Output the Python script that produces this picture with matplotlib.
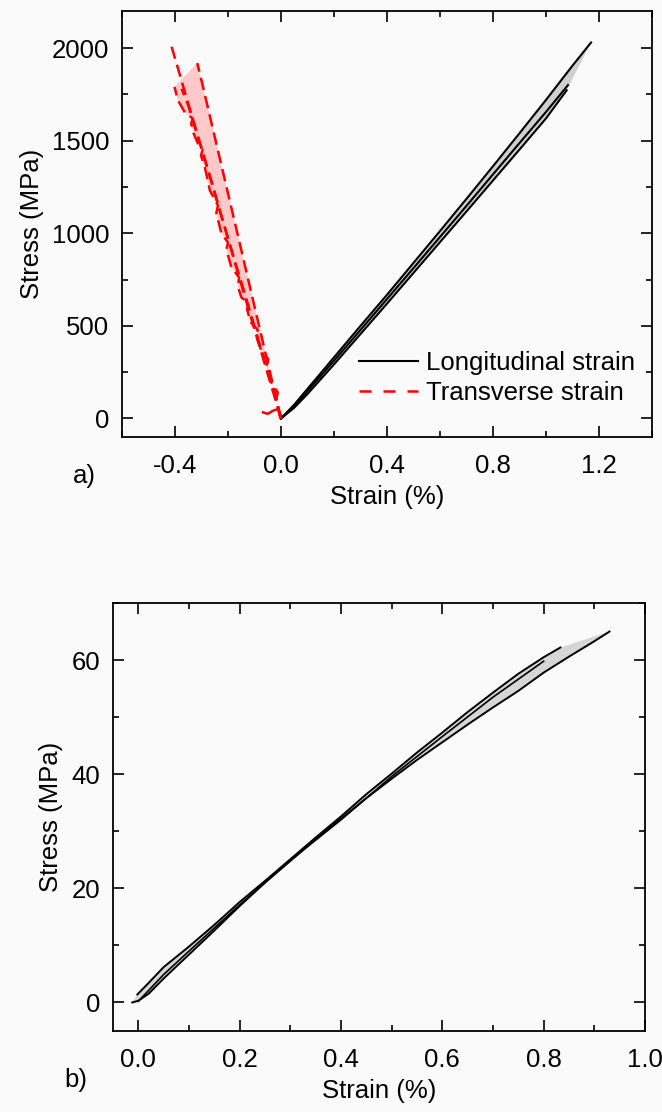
import numpy as np
import matplotlib
matplotlib.use('Agg')
import matplotlib.pyplot as plt
from matplotlib.ticker import MultipleLocator

plt.rcParams['font.family'] = ['Liberation Sans', 'DejaVu Sans']
plt.rcParams['font.size'] = 18.5

# ---- panel a): longitudinal strain (black) ----
long_x1 = [0, 0.05, 0.1, 0.2, 0.3, 0.4, 0.5, 0.6, 0.7, 0.8, 0.9, 1.0, 1.1, 1.17]
long_y1 = [0, 75, 160, 330, 500, 668, 840, 1012, 1186, 1362, 1540, 1720, 1905, 2030]
long_x2 = [0, 0.05, 0.1, 0.2, 0.3, 0.4, 0.5, 0.6, 0.7, 0.8, 0.9, 1.0, 1.083]
long_y2 = [0, 68, 148, 312, 478, 645, 812, 980, 1148, 1318, 1487, 1655, 1800]
long_x3 = [0, 0.05, 0.1, 0.2, 0.3, 0.4, 0.5, 0.6, 0.7, 0.8, 0.9, 1.0, 1.078]
long_y3 = [0, 58, 132, 292, 456, 620, 786, 952, 1118, 1285, 1452, 1620, 1772]

# ---- panel a): transverse strain (red) ----
trans_x1 = [0, -0.005, -0.018, -0.012, -0.035, -0.055, -0.048, -0.075, -0.093, -0.088,
            -0.115, -0.128, -0.122, -0.150, -0.163, -0.158, -0.188, -0.206, -0.200,
            -0.225, -0.244, -0.238, -0.268, -0.288, -0.302, -0.296, -0.314, -0.330,
            -0.339, -0.333, -0.362, -0.389, -0.402]
trans_y1 = [0, 15, 105, 140, 190, 284, 320, 370, 445, 480, 520, 589, 620, 655, 714,
            760, 820, 912, 950, 1000, 1109, 1150, 1230, 1360, 1420, 1450, 1486, 1540,
            1593, 1620, 1650, 1718, 1790]
trans_x2 = [0, -0.05, -0.1, -0.15, -0.2, -0.25, -0.3, -0.316]
trans_y2 = [0, 300, 605, 910, 1215, 1520, 1825, 1919]
trans_x3 = [0, -0.05, -0.1, -0.15, -0.2, -0.25, -0.3, -0.35, -0.4, -0.418]
trans_y3 = [0, 240, 480, 725, 970, 1215, 1460, 1700, 1945, 2032]
trans_x4 = [0, -0.02, -0.05, -0.08, -0.11, -0.14, -0.17, -0.2, -0.23, -0.26, -0.29,
            -0.32, -0.35, -0.375]
trans_y4 = [0, 110, 260, 400, 545, 690, 830, 975, 1120, 1270, 1410, 1550, 1690, 1780]
trans_x5 = [0, -0.012, -0.03, -0.05, -0.068]
trans_y5 = [15, 51, 42, 25, 33]

# ---- panel b) ----
b_x1 = [-0.002, 0.02, 0.05, 0.1, 0.15, 0.2, 0.25, 0.3, 0.35, 0.4, 0.45, 0.5, 0.55,
        0.6, 0.65, 0.7, 0.75, 0.8, 0.833]
b_y1 = [1.4, 3.4, 6.2, 9.8, 13.6, 17.6, 21.3, 25.1, 28.9, 32.6, 36.5, 40.1, 43.8,
        47.3, 50.9, 54.3, 57.6, 60.5, 62.2]
b_x2 = [-0.012, 0.0, 0.02, 0.05, 0.1, 0.15, 0.2, 0.25, 0.3, 0.35, 0.4, 0.45, 0.5,
        0.55, 0.6, 0.65, 0.7, 0.75, 0.8, 0.85, 0.9, 0.93]
b_y2 = [0, 0.3, 1.5, 4.2, 8.4, 12.6, 16.9, 21.0, 24.8, 28.6, 32.2, 35.8, 39.2,
        42.5, 45.6, 48.7, 51.7, 54.6, 57.8, 60.6, 63.3, 65.0]
b_x3 = [0.0, 0.05, 0.1, 0.2, 0.3, 0.4, 0.5, 0.6, 0.7, 0.8]
b_y3 = [0.2, 4.9, 9.0, 17.1, 24.9, 32.0, 39.6, 46.6, 53.5, 59.8]

bg = '#fafafa'
fig = plt.figure(figsize=(6.62, 11.12), dpi=100, facecolor=bg)
ax1 = fig.add_axes([122/662, 1-437/1112, 530/662, 426/1112], facecolor=bg)
ax2 = fig.add_axes([113/662, 1-1031/1112, 532/662, 428/1112], facecolor=bg)

# panel a
ax1.fill(np.concatenate([long_x1, long_x3[::-1]]), np.concatenate([long_y1, long_y3[::-1]]),
         color='#cfcfcf', lw=0)
ax1.fill(np.concatenate([trans_x1, trans_x2[::-1]]), np.concatenate([trans_y1, trans_y2[::-1]]),
         color='#ffc9c9', lw=0)
for x, y in [(long_x1, long_y1), (long_x2, long_y2), (long_x3, long_y3)]:
    ax1.plot(x, y, color='black', lw=1.5)
ax1.plot([], [], color='black', lw=1.5, label='Longitudinal strain')
for x, y in [(trans_x1, trans_y1), (trans_x2, trans_y2), (trans_x3, trans_y3), (trans_x4, trans_y4)]:
    ax1.plot(x, y, color='red', lw=1.8, ls=(0, (5, 2.5)))
ax1.plot(trans_x5, trans_y5, color='red', lw=1.8)
ax1.plot([], [], color='red', lw=1.8, ls=(0, (4.8, 4.8)), label='Transverse strain')

ax1.set_xlim(-0.6, 1.4)
ax1.set_ylim(-100, 2200)
ax1.xaxis.set_major_locator(MultipleLocator(0.4))
ax1.xaxis.set_minor_locator(MultipleLocator(0.2))
ax1.yaxis.set_major_locator(MultipleLocator(500))
ax1.yaxis.set_minor_locator(MultipleLocator(250))
ax1.set_xticks([-0.4, 0.0, 0.4, 0.8, 1.2])
ax1.set_xticklabels(['-0.4', '0.0', '0.4', '0.8', '1.2'])
ax1.set_xlabel('Strain (%)', labelpad=5)
ax1.set_ylabel('Stress (MPa)', labelpad=6)
ax1.legend(loc='center left', bbox_to_anchor=(0.447, 0.139), frameon=False,
           borderpad=0, borderaxespad=0, handlelength=2.3, handletextpad=0.3,
           labelspacing=0.25)

# panel b
ax2.fill(np.concatenate([b_x1, b_x2[::-1]]), np.concatenate([b_y1, b_y2[::-1]]),
         color='#d6d6d6', lw=0)
ax2.plot(b_x1, b_y1, color='black', lw=1.4)
ax2.plot(b_x2, b_y2, color='black', lw=1.4)
ax2.plot(b_x3, b_y3, color='black', lw=1.2)
ax2.set_xlim(-0.05, 1.0)
ax2.set_ylim(-5, 70)
ax2.xaxis.set_major_locator(MultipleLocator(0.2))
ax2.xaxis.set_minor_locator(MultipleLocator(0.1))
ax2.yaxis.set_major_locator(MultipleLocator(20))
ax2.yaxis.set_minor_locator(MultipleLocator(10))
ax2.set_xticks([0.0, 0.2, 0.4, 0.6, 0.8, 1.0])
ax2.set_xticklabels(['0.0', '0.2', '0.4', '0.6', '0.8', '1.0'])
ax2.set_xlabel('Strain (%)', labelpad=5)
ax2.set_ylabel('Stress (MPa)', labelpad=6)

for ax in (ax1, ax2):
    for s in ax.spines.values():
        s.set_linewidth(1.3)
    ax.tick_params(which='both', direction='in', top=True, right=True, width=1.2)
    ax.tick_params(which='major', length=8)
    ax.tick_params(axis='x', which='major', pad=12)
    ax.tick_params(axis='y', which='major', pad=9)
    ax.tick_params(which='minor', length=4)

fig.text(84/662, 1-476/1112, 'a)', ha='center', va='center', fontsize=18.5)
fig.text(76/662, 1-1080/1112, 'b)', ha='center', va='center', fontsize=18.5)

fig.savefig('out.png', dpi=100, facecolor=bg)
